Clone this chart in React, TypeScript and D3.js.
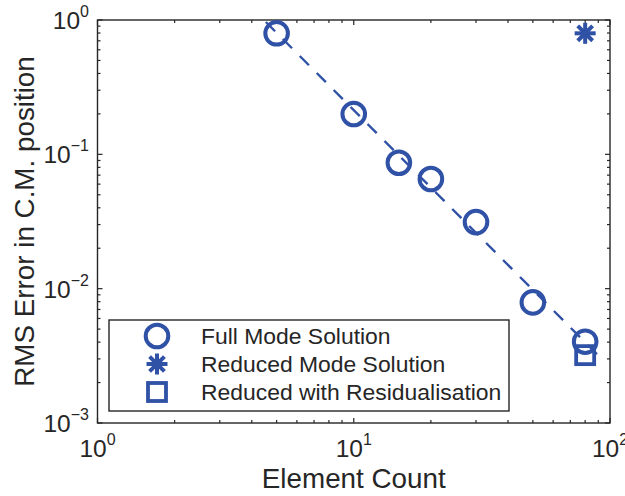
import React from "react";
import * as d3 from "d3";

const fullX = [5, 10, 15, 20, 30, 50, 80];
const fullY = [0.796, 0.1995, 0.0866, 0.0655, 0.0313, 0.0079, 0.00403];
const reducedX = [80];
const reducedY = [0.796];
const residX = [80];
const residY = [0.0032];
const fitX = [4.54, 89.7];
const fitY = [0.966, 0.0032];
const xTickExp = [0, 1, 2];
const yTickExp = [-3, -2, -1, 0];
const legendLabels = [
  "Full Mode Solution",
  "Reduced Mode Solution",
  "Reduced with Residualisation",
];

const W = 625;
const H = 496;
const L = 97.5;
const R = 610;
const T = 20;
const B = 423;
const BLUE = "#2f51a6";
const AX = "#262626";
const FONT = "Liberation Sans, Arial, Helvetica, sans-serif";

function Circle({ cx, cy }: { cx: number; cy: number }) {
  return <circle cx={cx} cy={cy} r={11.3} fill="none" stroke={BLUE} strokeWidth={4} />;
}
function Square({ cx, cy }: { cx: number; cy: number }) {
  const s = 18;
  return (
    <rect x={cx - s / 2} y={cy - s / 2} width={s} height={s} fill="none" stroke={BLUE} strokeWidth={3.8} />
  );
}
function Star({ cx, cy }: { cx: number; cy: number }) {
  const r = 10.5;
  const segs = [0, 45, 90, 135].map((a) => {
    const rad = (a * Math.PI) / 180;
    return [cx - r * Math.cos(rad), cy - r * Math.sin(rad), cx + r * Math.cos(rad), cy + r * Math.sin(rad)];
  });
  return (
    <g stroke={BLUE} strokeWidth={4}>
      {segs.map((s, i) => (
        <line key={i} x1={s[0]} y1={s[1]} x2={s[2]} y2={s[3]} />
      ))}
    </g>
  );
}

export default function App() {
  const x = d3.scaleLog().domain([1, 100]).range([L, R]);
  const y = d3.scaleLog().domain([1e-3, 1]).range([B, T]);

  const xMajor = xTickExp.map((e) => Math.pow(10, e));
  const yMajor = yTickExp.map((e) => Math.pow(10, e));
  const xMinor: number[] = [];
  for (let e = 0; e < 2; e++) for (let k = 2; k <= 9; k++) xMinor.push(k * Math.pow(10, e));
  const yMinor: number[] = [];
  for (let e = -3; e < 0; e++) for (let k = 2; k <= 9; k++) yMinor.push(k * Math.pow(10, e));

  const line = d3
    .line<number>()
    .x((_, i) => x(fitX[i]))
    .y((d) => y(d));

  const maj = 5;
  const min = 3;

  const legendRows = [336, 364, 392];

  return (
    <svg width={W} height={H} style={{ position: "absolute", left: 0, top: 0, background: "#fff" }} fontFamily={FONT}>
      <rect x={0} y={0} width={W} height={H} fill="#fff" />
      {/* ticks */}
      <g stroke={AX} strokeWidth={1.2}>
        {xMajor.map((v) => (
          <g key={"xm" + v}>
            <line x1={x(v)} x2={x(v)} y1={B} y2={B - maj} />
            <line x1={x(v)} x2={x(v)} y1={T} y2={T + maj} />
          </g>
        ))}
        {xMinor.map((v) => (
          <g key={"xn" + v}>
            <line x1={x(v)} x2={x(v)} y1={B} y2={B - min} />
            <line x1={x(v)} x2={x(v)} y1={T} y2={T + min} />
          </g>
        ))}
        {yMajor.map((v) => (
          <g key={"ym" + v}>
            <line x1={L} x2={L + maj} y1={y(v)} y2={y(v)} />
            <line x1={R} x2={R - maj} y1={y(v)} y2={y(v)} />
          </g>
        ))}
        {yMinor.map((v) => (
          <g key={"yn" + v}>
            <line x1={L} x2={L + min} y1={y(v)} y2={y(v)} />
            <line x1={R} x2={R - min} y1={y(v)} y2={y(v)} />
          </g>
        ))}
      </g>
      <rect x={L} y={T} width={R - L} height={B - T} fill="none" stroke={AX} strokeWidth={1.4} />

      {/* tick labels */}
      {xTickExp.map((e) => (
        <text key={"xl" + e} x={x(Math.pow(10, e))} y={457} textAnchor="middle" fontSize={24.5} fill={AX}>
          10
          <tspan fontSize={16} dy={-12}>
            {e}
          </tspan>
        </text>
      ))}
      {yTickExp.map((e) => (
        <text key={"yl" + e} x={89} y={y(Math.pow(10, e)) + 9} textAnchor="end" fontSize={24.5} fill={AX}>
          10
          <tspan fontSize={16} dy={-12}>
            {e === 0 ? "0" : "\u2212" + Math.abs(e)}
          </tspan>
        </text>
      ))}

      {/* axis labels */}
      <text x={(L + R) / 2} y={488} textAnchor="middle" fontSize={27.8} fill={AX}>
        Element Count
      </text>
      <text transform={`translate(34, ${(T + B) / 2}) rotate(-90)`} textAnchor="middle" fontSize={27.8} fill={AX}>
        RMS Error in C.M. position
      </text>

      {/* data */}
      {fullX.map((v, i) => (
        <Circle key={"c" + i} cx={x(v)} cy={y(fullY[i])} />
      ))}
      {reducedX.map((v, i) => (
        <Star key={"s" + i} cx={x(v)} cy={y(reducedY[i])} />
      ))}
      {residX.map((v, i) => (
        <Square key={"q" + i} cx={x(v)} cy={y(residY[i])} />
      ))}
      <path d={line(fitY) || ""} fill="none" stroke={BLUE} strokeWidth={2.4} strokeDasharray="13,11" />

      {/* legend */}
      <rect x={109} y={320} width={400} height={91} fill="#fff" stroke={AX} strokeWidth={1.4} />
      <Circle cx={157} cy={legendRows[0]} />
      <Star cx={157} cy={legendRows[1]} />
      <Square cx={157} cy={legendRows[2]} />
      {legendLabels.map((t, i) => (
        <text key={t} x={201} y={legendRows[i] + 8} fontSize={22.9} fill={AX}>
          {t}
        </text>
      ))}
    </svg>
  );
}
